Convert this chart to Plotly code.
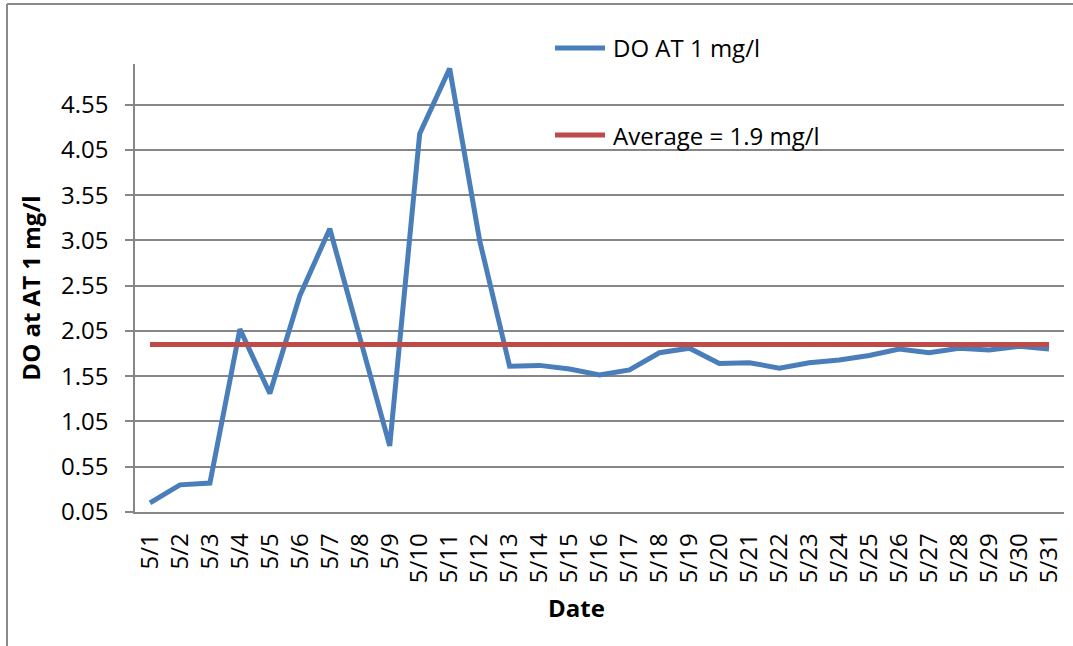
import plotly.graph_objects as go

dates = [f"5/{d}" for d in range(1, 32)]
do_values = [0.15, 0.35, 0.37, 2.07, 1.36, 2.44, 3.18, 1.97, 0.78, 4.23,
             4.95, 3.05, 1.66, 1.67, 1.63, 1.565, 1.62, 1.81, 1.86, 1.69,
             1.70, 1.64, 1.70, 1.73, 1.78, 1.85, 1.81, 1.86, 1.84, 1.88, 1.85]
avg_values = [1.9] * 31
y_ticks = [0.05, 0.55, 1.05, 1.55, 2.05, 2.55, 3.05, 3.55, 4.05, 4.55]
y_tick_text = [f"{v:.2f}" for v in y_ticks]

BLUE = "#4A7EBB"
RED = "#BE4B48"
GRID = "#868686"
FONT = "Open Sans"

fig = go.Figure()
fig.add_trace(go.Scatter(x=dates, y=do_values, mode="lines", name="DO AT 1 mg/l",
                         line=dict(color=BLUE, width=5), showlegend=False))
fig.add_trace(go.Scatter(x=dates, y=avg_values, mode="lines", name="Average = 1.9 mg/l",
                         line=dict(color=RED, width=5), showlegend=False))

W, H = 1073, 646
L, R, T, B = 135, 9, 64, 134
pw, ph = W - L - R, H - T - B

def px(x):
    return (x - L) / pw

def py(y):
    return (H - B - y) / ph

shapes = [
    dict(type="line", xref="paper", yref="paper", x0=px(7), x1=px(1075), y0=py(4), y1=py(4),
         line=dict(color="#8A8A8A", width=2)),
    dict(type="line", xref="paper", yref="paper", x0=px(7), x1=px(7), y0=py(4), y1=py(648),
         line=dict(color="#8A8A8A", width=2)),
    dict(type="line", xref="paper", yref="paper", x0=px(555), x1=px(605), y0=py(48), y1=py(48),
         line=dict(color=BLUE, width=5)),
    dict(type="line", xref="paper", yref="paper", x0=px(555), x1=px(605), y0=py(135), y1=py(135),
         line=dict(color=RED, width=5)),
]

annotations = [
    dict(text="DO AT 1 mg/l", xref="paper", yref="paper", x=px(611), y=py(48),
         xanchor="left", yanchor="middle", showarrow=False,
         font=dict(family=FONT, size=24, color="black")),
    dict(text="Average = 1.9 mg/l", xref="paper", yref="paper", x=px(611), y=py(135),
         xanchor="left", yanchor="middle", showarrow=False,
         font=dict(family=FONT, size=24, color="black")),
    dict(text="Date", xref="paper", yref="paper", x=px(576), y=py(607),
         xanchor="center", yanchor="middle", showarrow=False,
         font=dict(family=FONT, size=24, color="black", weight="bold")),
]

fig.update_layout(
    width=W, height=H,
    margin=dict(l=L, r=R, t=T, b=B, autoexpand=False),
    paper_bgcolor="white", plot_bgcolor="white",
    font=dict(family=FONT, size=24, color="black"),
    shapes=shapes, annotations=annotations,
    showlegend=False,
)
fig.update_xaxes(
    type="category", range=[-0.5, 30.5], tickangle=-90,
    showline=True, linecolor=GRID, linewidth=1.5, showgrid=False,
    zeroline=False, mirror=False,
    ticks="", ticklabelstandoff=10, automargin=False,
    tickfont=dict(family=FONT, size=24, color="black"),
)
fig.update_yaxes(
    range=[0.05, 5.0], tickvals=y_ticks, ticktext=y_tick_text,
    showline=True, linecolor=GRID, linewidth=1.5, mirror=False,
    showgrid=True, gridcolor=GRID, gridwidth=1.5,
    ticks="outside", ticklen=8, tickcolor=GRID, tickwidth=1.5,
    ticklabelstandoff=12, zeroline=False, automargin=False,
    tickfont=dict(family=FONT, size=24, color="black"),
    title=dict(text="DO at AT 1 mg/l", standoff=14,
               font=dict(family=FONT, size=24, color="black", weight="bold")),
)

fig.write_html("out.html")
